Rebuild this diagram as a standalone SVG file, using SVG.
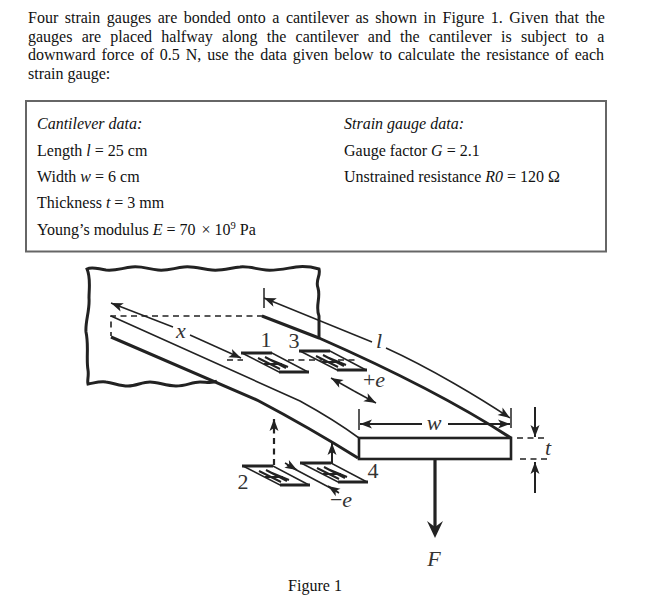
<svg xmlns="http://www.w3.org/2000/svg" width="663" height="604" viewBox="0 0 663 604">
<defs>
<marker id="ah" markerUnits="userSpaceOnUse" markerWidth="14" markerHeight="12" refX="13" refY="6" orient="auto"><path d="M1,1.500 L13,6 L1,10.500 L4,6 Z" fill="#222"/></marker>
<g id="gauge"><path d="M0,0 H30 L66,19 H37 Z" fill="#fff" stroke="#222" stroke-width="1.500"/><path d="M-1,0 H30 M37,19 H67" fill="none" stroke="#222" stroke-width="2.800"/><path d="M16,5 L38,16 M23,4 L44,15 M29,7 L46,14 M22,11 L40,11" fill="none" stroke="#222" stroke-width="2"/></g>
</defs>
<style>
text{font-family:"Liberation Serif",serif;fill:#111}
.b{font-size:16px}
.d{font-size:16px}
.i{font-style:italic}
.l{font-size:22px;fill:#333}
.t{fill:none;stroke:#222;stroke-width:1.600}
.k{fill:none;stroke:#222;stroke-width:3}
.a{fill:none;stroke:#222;stroke-width:1.500}
.a2{fill:none;stroke:#222;stroke-width:2}
.h{fill:none;stroke:#222;stroke-width:1.600;stroke-dasharray:6 4.500}
.h2{fill:none;stroke:#222;stroke-width:2.200;stroke-dasharray:6 4.500}
</style>
<rect width="663" height="604" fill="#fff"/>
<g id="intro">
<text class="b" x="28" y="23" word-spacing="2.500">Four strain gauges are bonded onto a cantilever as shown in Figure 1. Given that the</text>
<text class="b" x="28" y="42" word-spacing="5.200">gauges are placed halfway along the cantilever and the cantilever is subject to a</text>
<text class="b" x="28" y="60" word-spacing="2">downward force of 0.5 N, use the data given below to calculate the resistance of each</text>
<text class="b" x="28" y="79">strain gauge:</text>
</g>
<g id="data">
<rect x="26" y="101" width="580" height="150.500" fill="#fff" stroke="#666" stroke-width="2"/>
<text class="d i" x="37" y="129">Cantilever data:</text>
<text class="d" x="37" y="156">Length <tspan class="i">l</tspan> = 25 cm</text>
<text class="d" x="37" y="182">Width <tspan class="i">w</tspan> = 6 cm</text>
<text class="d" x="37" y="208">Thickness <tspan class="i">t</tspan> = 3 mm</text>
<text class="d" x="37" y="235">Young’s modulus <tspan class="i">E</tspan> = 70 <tspan dx="2">×</tspan> 10<tspan dy="-6" font-size="10.500">9</tspan><tspan dy="6"> Pa</tspan></text>
<text class="d i" x="344" y="129">Strain gauge data:</text>
<text class="d" x="344" y="156">Gauge factor <tspan class="i">G</tspan> = 2.1</text>
<text class="d" x="344" y="182">Unstrained resistance <tspan class="i">R0</tspan> = 120 Ω</text>
</g>
<g id="wall">
<path class="k" d="M319,338 V316 C315,306 321,298 318,288 C315,280 321,276 319,269 C312,267 304,266 296,267 C288,268 276,271 266,270 C256,269 248,266 240,267 C230,268 222,271 212,270 C202,269 194,266 184,267 C174,268 168,271 158,270 C148,269 142,266 132,267 C122,268 116,271 106,270 C98,269 92,266 87,269 C91,278 89,288 89,298 C90,310 85,322 86,332 C89,346 86,358 88,370 C89,376 87,380 88,384 C94,383 100,381 106,382 C114,383 120,386 128,386 C136,386 142,382 150,382 C158,382 166,386 176,386 C186,386 192,382 200,382 C206,382 212,384 217,381"/>
</g>
<g id="cantilever">
<path class="h" d="M263,316 H111 V336"/>
<path class="k" d="M262,316 L319,338 C360,356 440,392 511,438"/>
<path class="t" d="M111,316 L300,401 C320,412 340,424 359,438"/>
<path class="k" d="M111,337 L257,400 Q310,428 358,458"/>
<rect x="359" y="438" width="152" height="21" fill="#fff" stroke="#222" stroke-width="2.600"/>
</g>
<g id="gauge1"><use href="#gauge" x="242" y="353"/><text class="l" x="266" y="347" text-anchor="middle">1</text></g>
<g id="gauge3"><use href="#gauge" x="300" y="351"/><text class="l" x="294" y="348" text-anchor="middle">3</text></g>
<g id="gauge2"><use href="#gauge" x="243" y="466"/><text class="l" x="243" y="489" text-anchor="middle">2</text></g>
<g id="gauge4"><use href="#gauge" x="301" y="463"/><text class="l" x="373" y="478" text-anchor="middle">4</text></g>
<g id="connectors">
<path class="h" d="M227,360 H243 M288,360 H322 M338,360 H358"/>
<path class="a" d="M173,327 L111,303" marker-end="url(#ah)"/>
<path class="a" d="M190,335 L241,358" marker-end="url(#ah)"/>
<path class="a" d="M264,288 V308"/>
<path class="a" d="M372,342 L264,298" marker-end="url(#ah)"/>
<path class="a" d="M386,348 C430,368 480,398 510,418" marker-end="url(#ah)"/>
<path class="a" d="M511,408 V428"/>
<path class="a" d="M354,391 L331,378" marker-end="url(#ah)"/>
<path class="a" d="M354,391 L376,403" marker-end="url(#ah)"/>
<path class="a" d="M359,409 V430"/>
<path class="a2" d="M422,424 H360" marker-end="url(#ah)"/>
<path class="a2" d="M448,424 H510" marker-end="url(#ah)"/>
<path class="h" d="M517,438 H546 M520,459 H549"/>
<path class="a2" d="M535,407 V437" marker-end="url(#ah)"/>
<path class="a2" d="M535,493 V462" marker-end="url(#ah)"/>
<path class="h2" d="M274,465 V419" marker-end="url(#ah)"/>
<path class="a2" d="M332,463 V443" marker-end="url(#ah)"/>
<path class="a" d="M287,465 L338,492"/>
<path class="a" d="M285,463 L297,470" marker-end="url(#ah)"/>
<path class="a" d="M339,493 L328,486" marker-end="url(#ah)"/>
<path d="M435,460 V528" stroke="#222" stroke-width="3.200" fill="none"/>
<path d="M427,521 L435,527 L443,521 L435,538 Z" fill="#222"/>
</g>
<g id="labels">
<text class="l i" x="181" y="338" text-anchor="middle">x</text>
<text class="l i" x="379" y="348" text-anchor="middle">l</text>
<text class="l" x="374" y="387" text-anchor="middle">+<tspan class="i">e</tspan></text>
<text class="l i" x="434" y="430" text-anchor="middle">w</text>
<text class="l i" x="548" y="455" text-anchor="middle">t</text>
<text class="l" x="341" y="507" text-anchor="middle">−<tspan class="i">e</tspan></text>
<text class="l i" x="434" y="566" text-anchor="middle">F</text>
<text x="315" y="591" text-anchor="middle" font-size="16">Figure 1</text>
</g>
</svg>
